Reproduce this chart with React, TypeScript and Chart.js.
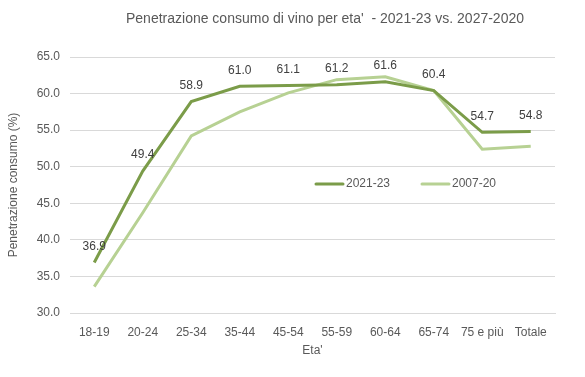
import React, { useEffect, useRef } from "react";
import { Chart, registerables } from "chart.js";

Chart.register(...registerables);

const categories = ["18-19", "20-24", "25-34", "35-44", "45-54", "55-59", "60-64", "65-74", "75 e più", "Totale"];
const series2021 = [36.9, 49.4, 58.9, 61.0, 61.1, 61.2, 61.6, 60.4, 54.7, 54.8];
const series2007 = [33.6, 43.7, 54.2, 57.5, 60.1, 61.9, 62.3, 60.4, 52.4, 52.8];
const seriesNames = ["2021-23", "2007-20"];
const titleText = "Penetrazione consumo di vino per eta'  - 2021-23 vs. 2027-2020";
const yTitle = "Penetrazione consumo (%)";
const xTitle = "Eta'";

const DARK = "#7B9C49";
const LIGHT = "#B7D193";
const TXT = "#595959";
const FONT = "'Liberation Sans', Arial, sans-serif";

const textPlugin = {
  id: "textPlugin",
  afterDraw(chart: any) {
    const ctx = chart.ctx;
    const area = chart.chartArea;
    ctx.save();
    // title
    ctx.fillStyle = TXT;
    ctx.textAlign = "center";
    ctx.textBaseline = "middle";
    ctx.font = "14px 'Liberation Sans Narrow', 'Liberation Sans', sans-serif";
    ctx.fillText(titleText, 325, 19);
    // axis titles
    ctx.font = "12px " + FONT;
    ctx.fillText(xTitle, (area.left + area.right) / 2, 351);
    ctx.save();
    ctx.translate(14, (area.top + area.bottom) / 2);
    ctx.rotate(-Math.PI / 2);
    ctx.fillText(yTitle, 0, 0);
    ctx.restore();
    // data labels for first series
    const meta = chart.getDatasetMeta(0);
    ctx.fillStyle = "#404040";
    ctx.font = "12px " + FONT;
    meta.data.forEach((pt: any, i: number) => {
      ctx.fillText(series2021[i].toFixed(1), pt.x, pt.y - 16);
    });
    // legend
    const ly = 184;
    const items = [
      { name: seriesNames[0], color: DARK, x: 316 },
      { name: seriesNames[1], color: LIGHT, x: 422 },
    ];
    items.forEach((it) => {
      ctx.strokeStyle = it.color;
      ctx.lineWidth = 3;
      ctx.lineCap = "round";
      ctx.beginPath();
      ctx.moveTo(it.x, ly);
      ctx.lineTo(it.x + 27, ly);
      ctx.stroke();
      ctx.fillStyle = TXT;
      ctx.textAlign = "left";
      ctx.fillText(it.name, it.x + 30, ly);
    });
    ctx.restore();
  },
};

export default function App() {
  const ref = useRef<HTMLCanvasElement>(null);
  useEffect(() => {
    document.body.style.margin = "0";
    const chart = new Chart(ref.current!, {
      type: "line",
      data: {
        labels: categories,
        datasets: [
          {
            label: seriesNames[0],
            data: series2021,
            borderColor: DARK,
            backgroundColor: DARK,
            borderWidth: 3,
            pointRadius: 0,
            tension: 0,
            order: 0,
          },
          {
            label: seriesNames[1],
            data: series2007,
            borderColor: LIGHT,
            backgroundColor: LIGHT,
            borderWidth: 3,
            pointRadius: 0,
            tension: 0,
            order: 1,
          },
        ],
      },
      options: {
        animation: false,
        responsive: false,
        layout: { padding: { top: 57, right: 30, left: 0, bottom: 0 } },
        plugins: { legend: { display: false }, title: { display: false }, tooltip: { enabled: false } },
        scales: {
          x: {
            offset: true,
            grid: { display: false, drawTicks: false },
            border: { display: true, color: "#D9D9D9", width: 1 },
            ticks: { color: TXT, font: { family: FONT, size: 12 }, padding: 12, maxRotation: 0, autoSkip: false },
            afterFit: (s: any) => { s.height = 64; },
          },
          y: {
            min: 30,
            max: 65,
            grid: { color: "#D9D9D9", drawTicks: false },
            border: { display: false },
            ticks: {
              stepSize: 5,
              color: TXT,
              padding: 10,
              font: { family: FONT, size: 12 },
              callback: (v: any) => Number(v).toFixed(1),
            },
            afterFit: (s: any) => { s.width = 70; },
          },
        },
      },
      plugins: [textPlugin],
    });
    return () => chart.destroy();
  }, []);
  return <canvas ref={ref} width={585} height={377} style={{ display: "block" }} />;
}
